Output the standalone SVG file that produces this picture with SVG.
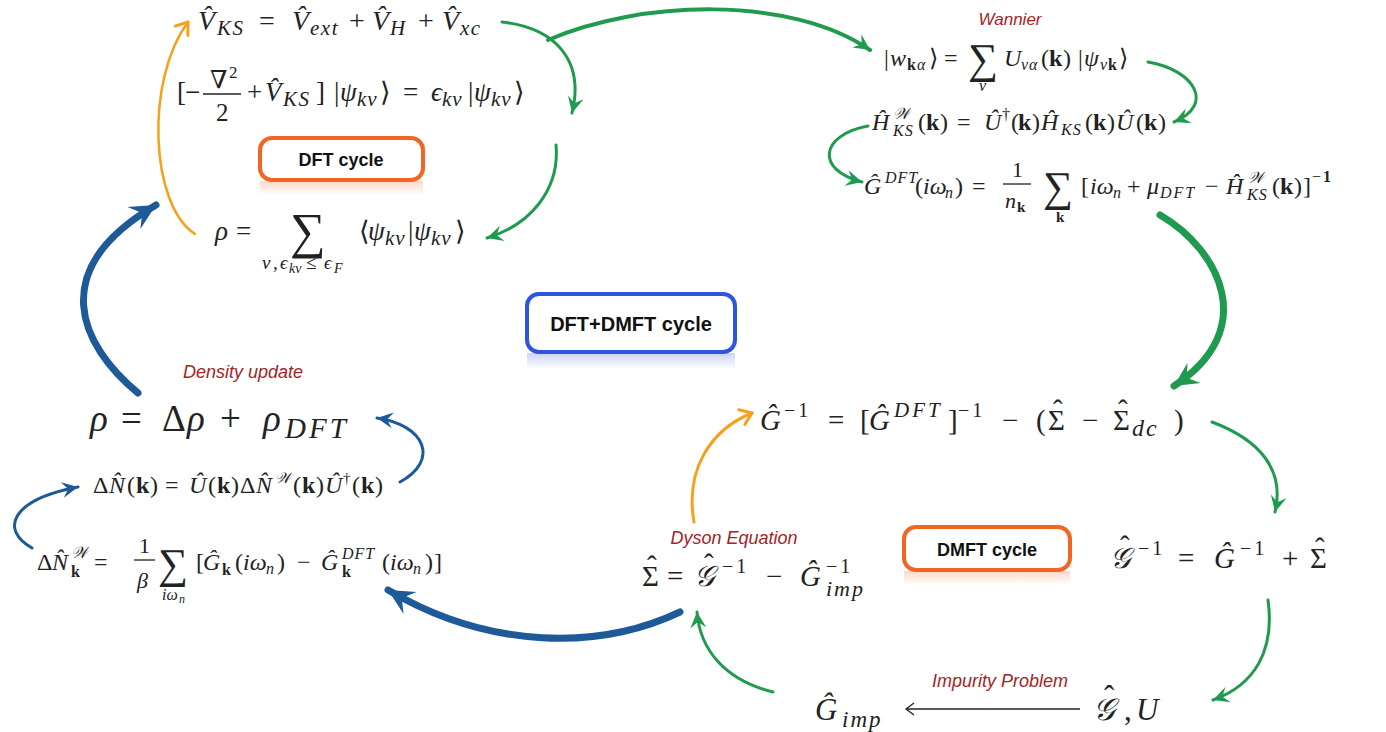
<svg xmlns="http://www.w3.org/2000/svg" width="1386" height="732" viewBox="0 0 1386 732">
<style>
.m{font-family:"Liberation Serif","DejaVu Serif",serif;fill:#222}
.i{font-style:italic}
.b{font-weight:bold;font-style:normal}
.s1{letter-spacing:3px}
.lbl{font-family:"Liberation Sans",Arial,sans-serif;font-style:italic;fill:#a5231f}
.bt{font-family:"Liberation Sans",Arial,sans-serif;font-weight:bold;fill:#111;text-anchor:middle}
.g{fill:none;stroke:#1f9a4f;stroke-linecap:round}
.o{fill:none;stroke:#f7a01c;stroke-linecap:round}
.bl{fill:none;stroke:#1e5a97;stroke-linecap:round}
.bar{stroke:#222;stroke-width:1.3}
</style>
<defs>
<marker id="ag" viewBox="-18 -10 20 20" refX="0" refY="0" markerWidth="20" markerHeight="20" markerUnits="userSpaceOnUse" orient="auto"><path d="M0,0 L-16,-8 L-10,0 L-16,8 Z" fill="#1f9a4f"/></marker>
<marker id="agL" viewBox="-18 -10 20 20" refX="0" refY="0" markerWidth="30" markerHeight="30" markerUnits="userSpaceOnUse" orient="auto"><path d="M0,0 L-16,-8 L-10,0 L-16,8 Z" fill="#1f9a4f"/></marker>
<marker id="ab" viewBox="-18 -10 20 20" refX="0" refY="0" markerWidth="20" markerHeight="20" markerUnits="userSpaceOnUse" orient="auto"><path d="M0,0 L-16,-8 L-10,0 L-16,8 Z" fill="#1e5a97"/></marker>
<marker id="abL" viewBox="-18 -10 20 20" refX="0" refY="0" markerWidth="32" markerHeight="32" markerUnits="userSpaceOnUse" orient="auto"><path d="M0,0 L-16,-8 L-10,0 L-16,8 Z" fill="#1e5a97"/></marker>
<marker id="ao" viewBox="-14 -10 16 20" refX="0" refY="0" markerWidth="16" markerHeight="20" markerUnits="userSpaceOnUse" orient="auto"><path d="M-11,-8 L0,0 L-11,8" fill="none" stroke="#f7a01c" stroke-width="3" stroke-linecap="round" stroke-linejoin="round"/></marker>
<marker id="ak" viewBox="-12 -8 14 16" refX="0" refY="0" markerWidth="14" markerHeight="16" markerUnits="userSpaceOnUse" orient="auto"><path d="M-8,-6 L0,0 L-8,6" fill="none" stroke="#222" stroke-width="1.3"/></marker>
<linearGradient id="fo" x1="0" y1="0" x2="0" y2="1"><stop offset="0" stop-color="#f26522" stop-opacity="0.25"/><stop offset="1" stop-color="#f26522" stop-opacity="0"/></linearGradient>
<linearGradient id="fb" x1="0" y1="0" x2="0" y2="1"><stop offset="0" stop-color="#2f55e0" stop-opacity="0.25"/><stop offset="1" stop-color="#2f55e0" stop-opacity="0"/></linearGradient>
</defs>

<g id="connectors">
<path class="o" stroke-width="2.5" d="M195,234 C150,205 145,80 188,22" marker-end="url(#ao)"/>
<path class="g" stroke-width="3" d="M502,22 C555,28 585,60 572,113" marker-end="url(#ag)"/>
<path class="g" stroke-width="3" d="M556,145 C560,190 530,225 487,238" marker-end="url(#ag)"/>
<path class="g" stroke-width="4" d="M548,40 C640,0 790,-5 870,50" marker-end="url(#ag)"/>
<path class="g" stroke-width="3" d="M1148,62 C1195,70 1215,105 1174,122" marker-end="url(#ag)"/>
<path class="g" stroke-width="3" d="M868,126 C820,135 815,170 862,182" marker-end="url(#ag)"/>
<path class="g" stroke-width="7" d="M1160,215 C1220,250 1260,330 1174,386" marker-end="url(#agL)"/>
<path class="g" stroke-width="3" d="M1212,422 C1260,440 1285,470 1275,512" marker-end="url(#ag)"/>
<path class="g" stroke-width="3" d="M1268,600 C1275,650 1255,685 1213,700" marker-end="url(#ag)"/>
<path class="g" stroke-width="3" d="M773,692 C725,680 700,650 697,612" marker-end="url(#ag)"/>
<path class="o" stroke-width="3" d="M694,522 C685,470 710,430 752,413" marker-end="url(#ao)"/>
<path class="bl" stroke-width="7" d="M680,612 C600,650 490,650 388,590" marker-end="url(#abL)"/>
<path class="bl" stroke-width="3" d="M32,548 C0,530 10,500 78,487" marker-end="url(#ab)"/>
<path class="bl" stroke-width="3" d="M400,482 C440,460 425,425 377,418" marker-end="url(#ab)"/>
<path class="bl" stroke-width="7" d="M138,393 C80,345 45,270 156,205" marker-end="url(#abL)"/>
<line x1="1080" y1="709" x2="906" y2="709" stroke="#222" stroke-width="1.3" marker-end="url(#ak)"/>
</g>

<g id="box-dft">
<rect x="260" y="181" width="163" height="14" fill="url(#fo)"/>
<rect x="260" y="138" width="163" height="42" rx="12" fill="#fff" stroke="#f26522" stroke-width="4"/>
<text class="bt" x="341" y="166" font-size="18">DFT cycle</text>
</g>

<g id="box-dftdmft">
<rect x="527" y="353" width="208" height="16" fill="url(#fb)"/>
<rect x="527" y="294" width="208" height="58" rx="12" fill="#fff" stroke="#2f55e0" stroke-width="4"/>
<text class="bt" x="631" y="331" font-size="20">DFT+DMFT cycle</text>
</g>

<g id="box-dmft">
<rect x="904" y="571" width="166" height="14" fill="url(#fo)"/>
<rect x="904" y="527" width="166" height="43" rx="12" fill="#fff" stroke="#f26522" stroke-width="4"/>
<text class="bt" x="987" y="556" font-size="18">DMFT cycle</text>
</g>

<g id="eq-vks">
<text class="m" font-size="28"><tspan class="i" x="198" y="30">V̂</tspan><tspan class="i" font-size="21" x="217" y="35" letter-spacing="1.5">KS</tspan><tspan x="259" y="30">=</tspan><tspan class="i" x="292" y="30">V̂</tspan><tspan class="i" font-size="21" x="310" y="35" letter-spacing="1.5">ext</tspan><tspan x="349" y="30">+</tspan><tspan class="i" x="372" y="30">V̂</tspan><tspan class="i" font-size="21" x="390" y="35">H</tspan><tspan x="418" y="30">+</tspan><tspan class="i" x="442" y="30">V̂</tspan><tspan class="i" font-size="21" x="460" y="35" letter-spacing="1.5">xc</tspan></text>
</g>

<g id="eq-ks">
<text class="m" font-size="27"><tspan x="177" y="101">[</tspan><tspan x="185" y="101">−</tspan><tspan x="210" y="88" font-size="25">∇</tspan><tspan x="229" y="78" font-size="17">2</tspan><tspan x="216" y="121" font-size="25">2</tspan><tspan x="247" y="101">+</tspan><tspan class="i" x="265" y="101">V̂</tspan><tspan class="i" font-size="21" x="283" y="106" letter-spacing="1.5">KS</tspan><tspan x="316" y="101">]</tspan><tspan x="334" y="101">|</tspan><tspan class="i" x="340" y="101">ψ</tspan><tspan class="i" font-size="21" x="357" y="106" letter-spacing="1">kν</tspan><tspan x="380" y="101">⟩</tspan><tspan x="403" y="101">=</tspan><tspan class="i" x="431" y="101">ϵ</tspan><tspan class="i" font-size="21" x="442" y="106" letter-spacing="1">kν</tspan><tspan x="468" y="101">|</tspan><tspan class="i" x="474" y="101">ψ</tspan><tspan class="i" font-size="21" x="491" y="106" letter-spacing="1">kν</tspan><tspan x="514" y="101">⟩</tspan></text>
<line class="bar" x1="203" y1="94" x2="241" y2="94"/>
</g>

<g id="eq-rho">
<text class="m" font-size="27"><tspan class="i" x="215" y="240">ρ</tspan><tspan x="236" y="240">=</tspan><tspan x="290" y="248" font-size="50">∑</tspan><tspan x="359" y="240">⟨</tspan><tspan class="i" x="368" y="240">ψ</tspan><tspan class="i" font-size="21" x="385" y="245" letter-spacing="1">kν</tspan><tspan x="408" y="240">|</tspan><tspan class="i" x="414" y="240">ψ</tspan><tspan class="i" font-size="21" x="431" y="245" letter-spacing="1">kν</tspan><tspan x="455" y="240">⟩</tspan></text>
<text class="m i" font-size="19"><tspan x="262" y="269">ν</tspan><tspan x="273" y="269">,</tspan><tspan x="280" y="269">ϵ</tspan><tspan font-size="14" x="289" y="273">kν</tspan><tspan style="font-style:normal" x="306" y="269">≤</tspan><tspan x="324" y="269">ϵ</tspan><tspan font-size="14" x="334" y="273">F</tspan></text>
</g>

<g id="eq-wannier">
<text class="lbl" x="1010" y="25" font-size="17" text-anchor="middle">Wannier</text>
<text class="m" font-size="24"><tspan x="884" y="66">|</tspan><tspan class="i" x="890" y="66">w</tspan><tspan class="b" font-size="16" x="907" y="70">k</tspan><tspan class="i" font-size="16" x="917" y="70">α</tspan><tspan x="929" y="66">⟩</tspan><tspan x="944" y="66">=</tspan><tspan x="968" y="73" font-size="42">∑</tspan><tspan class="i" font-size="16" x="979" y="91">ν</tspan><tspan class="i" x="1004" y="66">U</tspan><tspan class="i" font-size="16" x="1021" y="70" letter-spacing="1">να</tspan><tspan x="1041" y="66">(</tspan><tspan class="b" x="1049" y="66">k</tspan><tspan x="1063" y="66">)</tspan><tspan x="1078" y="66">|</tspan><tspan class="i" x="1084" y="66">ψ</tspan><tspan class="i" font-size="16" x="1100" y="70">ν</tspan><tspan class="b" font-size="16" x="1108" y="70">k</tspan><tspan x="1119" y="66">⟩</tspan></text>
</g>

<g id="eq-hw">
<text class="m" font-size="24"><tspan class="i" x="872" y="130">Ĥ</tspan><tspan class="i" font-size="16" x="893" y="119">𝒲</tspan><tspan class="i" font-size="16" x="893" y="136" letter-spacing="1">KS</tspan><tspan x="918" y="130">(</tspan><tspan class="b" x="926" y="130">k</tspan><tspan x="940" y="130">)</tspan><tspan x="957" y="130">=</tspan><tspan class="i" x="984" y="130">Û</tspan><tspan font-size="16" x="1002" y="120">†</tspan><tspan x="1011" y="130">(</tspan><tspan class="b" x="1018" y="130">k</tspan><tspan x="1032" y="130">)</tspan><tspan class="i" x="1041" y="130">Ĥ</tspan><tspan class="i" font-size="16" x="1061" y="135" letter-spacing="1">KS</tspan><tspan x="1085" y="130">(</tspan><tspan class="b" x="1093" y="130">k</tspan><tspan x="1107" y="130">)</tspan><tspan class="i" x="1116" y="130">Û</tspan><tspan x="1136" y="130">(</tspan><tspan class="b" x="1144" y="130">k</tspan><tspan x="1158" y="130">)</tspan></text>
</g>

<g id="eq-gdft">
<text class="m" font-size="24"><tspan class="i" x="864" y="194">Ĝ</tspan><tspan class="i" font-size="16" x="885" y="183" letter-spacing="1">DFT</tspan><tspan x="915" y="194">(</tspan><tspan class="i" x="923" y="194">iω</tspan><tspan class="i" font-size="16" x="945" y="198">n</tspan><tspan x="955" y="194">)</tspan><tspan x="972" y="194">=</tspan><tspan x="1012" y="177" font-size="22">1</tspan><tspan class="i" font-size="22" x="1005" y="208">n</tspan><tspan class="b" font-size="15" x="1017" y="212">k</tspan><tspan x="1043" y="201" font-size="42">∑</tspan><tspan class="b" font-size="15" x="1056" y="222">k</tspan><tspan x="1081" y="194">[</tspan><tspan class="i" x="1090" y="194">iω</tspan><tspan class="i" font-size="16" x="1113" y="198">n</tspan><tspan x="1127" y="194">+</tspan><tspan class="i" x="1147" y="194">μ</tspan><tspan class="i" font-size="16" x="1160" y="198" letter-spacing="2">DFT</tspan><tspan x="1205" y="194">−</tspan><tspan class="i" x="1226" y="194">Ĥ</tspan><tspan class="i" font-size="16" x="1247" y="183">𝒲</tspan><tspan class="i" font-size="16" x="1247" y="200" letter-spacing="1">KS</tspan><tspan x="1272" y="194">(</tspan><tspan class="b" x="1280" y="194">k</tspan><tspan x="1294" y="194">)</tspan><tspan x="1303" y="194">]</tspan><tspan font-size="16" x="1312" y="182">−</tspan><tspan class="b" font-size="16" x="1323" y="182">1</tspan></text>
<line class="bar" x1="1003" y1="184" x2="1031" y2="184"/>
</g>

<g id="eq-density">
<text class="lbl" x="243" y="378" font-size="18" text-anchor="middle">Density update</text>
<text class="m" font-size="37"><tspan class="i" x="90" y="431">ρ</tspan><tspan x="121" y="431">=</tspan><tspan x="162" y="431">Δ</tspan><tspan class="i" x="187" y="431">ρ</tspan><tspan x="220" y="431">+</tspan><tspan class="i" x="263" y="431">ρ</tspan><tspan class="i" font-size="29" x="285" y="438" letter-spacing="3">DFT</tspan></text>
</g>

<g id="eq-dn">
<text class="m" font-size="24"><tspan x="93" y="493">Δ</tspan><tspan class="i" x="109" y="493">N̂</tspan><tspan x="127" y="493">(</tspan><tspan class="b" x="136" y="493">k</tspan><tspan x="150" y="493">)</tspan><tspan x="165" y="493">=</tspan><tspan class="i" x="189" y="493">Û</tspan><tspan x="208" y="493">(</tspan><tspan class="b" x="217" y="493">k</tspan><tspan x="231" y="493">)</tspan><tspan x="240" y="493">Δ</tspan><tspan class="i" x="256" y="493">N̂</tspan><tspan class="i" font-size="15" x="275" y="483">𝒲</tspan><tspan x="293" y="493">(</tspan><tspan class="b" x="302" y="493">k</tspan><tspan x="316" y="493">)</tspan><tspan class="i" x="325" y="493">Û</tspan><tspan font-size="15" x="343" y="483">†</tspan><tspan x="352" y="493">(</tspan><tspan class="b" x="361" y="493">k</tspan><tspan x="375" y="493">)</tspan></text>
</g>

<g id="eq-dnw">
<text class="m" font-size="24"><tspan x="37" y="570">Δ</tspan><tspan class="i" x="52" y="570">N̂</tspan><tspan class="i" font-size="16" x="71" y="558">𝒲</tspan><tspan class="b" font-size="16" x="71" y="577">k</tspan><tspan x="94" y="570">=</tspan><tspan x="139" y="553" font-size="22">1</tspan><tspan class="i" font-size="22" x="137" y="588">β</tspan><tspan x="158" y="578" font-size="42">∑</tspan><tspan class="i" font-size="16" x="162" y="600">iω</tspan><tspan class="i" font-size="12" x="179" y="603">n</tspan><tspan x="196" y="570">[</tspan><tspan class="i" x="203" y="570">Ĝ</tspan><tspan class="b" font-size="16" x="222" y="575">k</tspan><tspan x="235" y="570">(</tspan><tspan class="i" x="243" y="570">iω</tspan><tspan class="i" font-size="16" x="266" y="574">n</tspan><tspan x="277" y="570">)</tspan><tspan x="297" y="570">−</tspan><tspan class="i" x="321" y="570">Ĝ</tspan><tspan class="i" font-size="16" x="342" y="559" letter-spacing="1">DFT</tspan><tspan class="b" font-size="16" x="342" y="577">k</tspan><tspan x="382" y="570">(</tspan><tspan class="i" x="390" y="570">iω</tspan><tspan class="i" font-size="16" x="413" y="574">n</tspan><tspan x="425" y="570">)</tspan><tspan x="434" y="570">]</tspan></text>
<line class="bar" x1="134" y1="560" x2="155" y2="560"/>
</g>

<g id="eq-ginv">
<text class="m" font-size="29"><tspan class="i" x="760" y="430">Ĝ</tspan><tspan class="s1" font-size="20" x="784" y="417">−1</tspan><tspan x="828" y="430">=</tspan><tspan x="860" y="430">[</tspan><tspan class="i" x="869" y="430">Ĝ</tspan><tspan class="i" font-size="21" x="894" y="417" letter-spacing="3">DFT</tspan><tspan x="948" y="430">]</tspan><tspan class="s1" font-size="20" x="958" y="417">−1</tspan><tspan x="1002" y="430">−</tspan><tspan x="1036" y="430">(</tspan><tspan x="1048" y="430">Σ</tspan><tspan x="1053" y="420">ˆ</tspan><tspan x="1082" y="430">−</tspan><tspan x="1113" y="430">Σ</tspan><tspan x="1118" y="420">ˆ</tspan><tspan class="i" font-size="24" x="1132" y="436" letter-spacing="2">dc</tspan><tspan x="1174" y="430">)</tspan></text>
</g>

<g id="eq-dyson">
<text class="lbl" x="734" y="544" font-size="18" text-anchor="middle">Dyson Equation</text>
<text class="m" font-size="29"><tspan x="642" y="586">Σ</tspan><tspan x="647" y="576">ˆ</tspan><tspan x="667" y="586">=</tspan><tspan class="i" x="694" y="586">𝒢</tspan><tspan x="704" y="574">ˆ</tspan><tspan class="s1" font-size="20" x="722" y="573">−1</tspan><tspan x="766" y="586">−</tspan><tspan class="i" x="800" y="586">Ĝ</tspan><tspan class="s1" font-size="20" x="826" y="573">−1</tspan><tspan class="i" font-size="22" x="826" y="596" letter-spacing="2">imp</tspan></text>
</g>

<g id="eq-weiss">
<text class="m" font-size="29"><tspan class="i" x="1110" y="568">𝒢</tspan><tspan x="1120" y="556">ˆ</tspan><tspan class="s1" font-size="20" x="1138" y="555">−1</tspan><tspan x="1178" y="568">=</tspan><tspan class="i" x="1214" y="568">Ĝ</tspan><tspan class="s1" font-size="20" x="1240" y="555">−1</tspan><tspan x="1282" y="568">+</tspan><tspan x="1310" y="568">Σ</tspan><tspan x="1315" y="558">ˆ</tspan></text>
</g>

<g id="eq-impurity">
<text class="lbl" x="1000" y="687" font-size="18" text-anchor="middle">Impurity Problem</text>
<text class="m" font-size="31"><tspan class="i" x="815" y="720">Ĝ</tspan><tspan class="i" font-size="23" x="842" y="727" letter-spacing="2">imp</tspan><tspan class="i" x="1093" y="720">𝒢</tspan><tspan x="1104" y="707">ˆ</tspan><tspan x="1124" y="720">,</tspan><tspan class="i" x="1136" y="720">U</tspan></text>
</g>
</svg>
